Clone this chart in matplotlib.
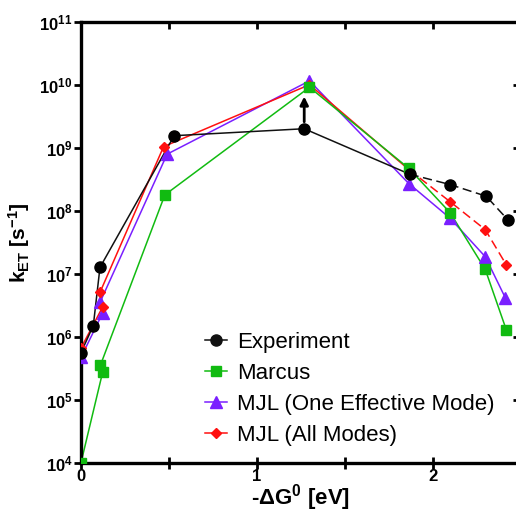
import matplotlib
matplotlib.use("Agg")
import matplotlib.pyplot as plt
from matplotlib.ticker import FixedLocator, NullLocator

plt.rcParams['font.family'] = ['Liberation Sans', 'DejaVu Sans']
plt.rcParams['mathtext.fontset'] = 'custom'
plt.rcParams['mathtext.rm'] = 'Liberation Sans'
plt.rcParams['mathtext.bf'] = 'Liberation Sans:bold'
plt.rcParams['mathtext.it'] = 'Liberation Sans:italic'

# Data
exp_x = [0.0, 0.07, 0.108, 0.53, 1.27, 1.87, 2.10, 2.305, 2.43]
exp_y = [5.6e5, 1.5e6, 1.26e7, 1.55e9, 2.0e9, 3.8e8, 2.6e8, 1.7e8, 7.1e7]

marcus_x = [0.0, 0.124, 0.11, 0.477, 1.30, 1.865, 2.10, 2.30, 2.42]
marcus_y = [1.0e4, 2.8e5, 3.5e5, 1.78e8, 9.1e9, 4.7e8, 9.3e7, 1.17e7, 1.28e6]

mjl1_x = [0.0, 0.124, 0.11, 0.49, 1.30, 1.865, 2.10, 2.30, 2.415]
mjl1_y = [4.7e5, 2.4e6, 3.6e6, 7.9e8, 1.15e10, 2.7e8, 7.6e7, 1.86e7, 4.1e6]

mjlall_x = [0.0, 0.124, 0.11, 0.47, 1.30, 1.865, 2.10, 2.30, 2.42]
mjlall_y = [6.6e5, 3.0e6, 5.2e6, 1.04e9, 1.0e10, 4.5e8, 1.39e8, 5.0e7, 1.38e7]

arrow_x = 1.27
arrow_y_start = 2.0e9
arrow_y_end = 6.5e9

labels = ["Experiment", "Marcus", "MJL (One Effective Mode)", "MJL (All Modes)"]
xtick_vals = [0, 1, 2]
xtick_minor = [0.5, 1.5, 2.5]
top_ticks = [0.5, 1.0, 1.5, 2.0, 2.5]
ytick_exps = [4, 5, 6, 7, 8, 9, 10, 11]

fig = plt.figure(figsize=(5.16, 5.14), dpi=100)
ax = fig.add_axes([81/516, 51.3/514, 439.4/516, 441/514])

lw = 1.1
purple = '#7a1fff'
red = '#ff1010'
green = '#11bb11'
black = '#111111'
# purple
ax.plot(mjl1_x, mjl1_y, color=purple, lw=lw, zorder=2)
ax.plot(mjl1_x, mjl1_y, ls='none', marker='^', ms=8, color=purple, zorder=3)
# red
ax.plot(mjlall_x[:6], mjlall_y[:6], color=red, lw=lw, zorder=2)
ax.plot(mjlall_x[5:], mjlall_y[5:], color=red, lw=lw, ls=(0, (6, 3)), zorder=2)
ax.plot(mjlall_x, mjlall_y, ls='none', marker='D', ms=5.5, color=red, zorder=3)
# green
ax.plot(marcus_x, marcus_y, color=green, lw=lw, zorder=2)
ax.plot(marcus_x, marcus_y, ls='none', marker='s', ms=7.5, color=green, zorder=4)
# black
ax.plot(exp_x[:6], exp_y[:6], color=black, lw=lw, zorder=2)
ax.plot(exp_x[5:], exp_y[5:], color=black, lw=lw, ls=(0, (6, 3)), zorder=2)
ax.plot(exp_x, exp_y, ls='none', marker='o', ms=8, color='black', zorder=5)

ax.annotate('', xy=(arrow_x, arrow_y_end), xytext=(arrow_x, arrow_y_start),
            arrowprops=dict(arrowstyle='-|>', color='black', lw=2, mutation_scale=12,
                            shrinkA=5, shrinkB=0), zorder=6)

# legend proxies
h1, = ax.plot([], [], color=black, marker='o', ms=8, lw=lw)
h2, = ax.plot([], [], color=green, marker='s', ms=7.5, lw=lw)
h3, = ax.plot([], [], color=purple, marker='^', ms=8, lw=lw)
h4, = ax.plot([], [], color=red, marker='D', ms=5.5, lw=lw)
ax.legend([h1, h2, h3, h4], labels, loc='upper left', bbox_to_anchor=(0.282, 0.297),
          frameon=False, fontsize=16, handlelength=1.0, handletextpad=0.45,
          labelspacing=0.45, borderaxespad=0, borderpad=0)

ax.set_yscale('log')
ax.set_xlim(0, 2.5)
ax.set_ylim(1e4, 1e11)

ax.yaxis.set_major_locator(FixedLocator([10.0**e for e in ytick_exps]))
ax.yaxis.set_minor_locator(NullLocator())
ax.set_yticklabels([r'$\mathbf{10^{%d}}$' % e for e in ytick_exps], fontsize=12)
ax.set_xticks(xtick_vals)
ax.set_xticklabels([str(v) for v in xtick_vals], fontsize=12, fontweight='bold')
ax.set_xticks(xtick_minor, minor=True)

for s in ax.spines.values():
    s.set_linewidth(2.4)

ax.tick_params(axis='x', which='both', direction='inout', length=9, width=2,
               top=False, bottom=True, pad=0)
ax.tick_params(axis='y', which='both', direction='out', length=5, width=2,
               right=False, pad=1)

# top spine ticks (inward)
axt = ax.twiny()
axt.set_xlim(ax.get_xlim())
axt.set_xticks(top_ticks)
axt.xaxis.set_minor_locator(NullLocator())
axt.tick_params(axis='x', direction='in', length=5, width=2, labeltop=False)
for s in axt.spines.values():
    s.set_visible(False)

# right spine ticks (inward)
axr = ax.twinx()
axr.set_yscale('log')
axr.set_ylim(ax.get_ylim())
axr.yaxis.set_major_locator(FixedLocator([10.0**e for e in ytick_exps]))
axr.yaxis.set_minor_locator(NullLocator())
axr.tick_params(axis='y', direction='in', length=5, width=2, labelright=False)
for s in axr.spines.values():
    s.set_visible(False)

ax.set_xlabel(r'-$\mathbf{\Delta G^{0}}$ [eV]', fontsize=16, fontweight='bold', labelpad=-1)
ax.set_ylabel(r'$\mathbf{k_{ET}\ [s^{-1}]}$', fontsize=15, labelpad=5)

fig.savefig('out.png', dpi=100)
